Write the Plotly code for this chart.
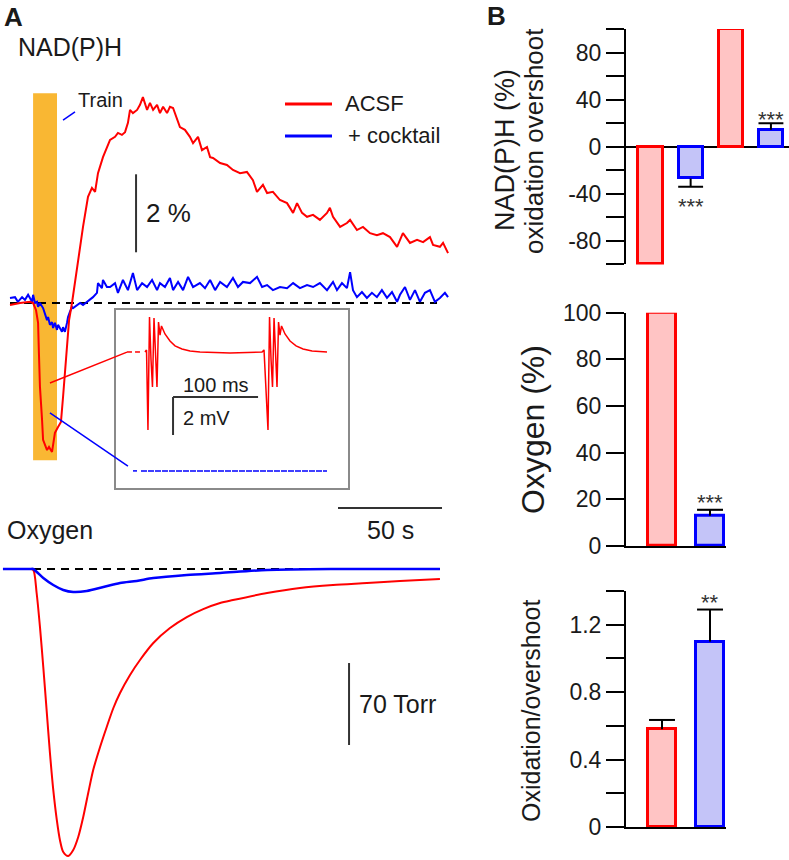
import plotly.graph_objects as go

W, H = 789, 860
FONT = "Liberation Sans, Arial, Helvetica, sans-serif"
RED = "#FF0000"
BLUE = "#0000FF"
RED_FILL = "#FFC4C4"
BLUE_FILL = "#C4C4F8"
ORANGE = "#F9B733"
INK = "#1a1a1a"
BAR_INK = "#333333"

# ---------------- Panel A : NAD(P)H (time in s, change in %) ----------------
nad_acsf_t = [0, 4.8, 9.6, 11.1, 12.5, 13.5, 13.9, 14.4, 15.4, 15.9, 17.8, 18.75, 20.2, 20.7, 21.6,
              23.1, 24.5, 25.5, 26.4, 27.4, 28.4, 29.8, 32.7, 35.1, 37.5, 39.4, 40.9, 42.3, 44.7,
              48.1, 50.5, 51.9, 53.8, 55.3, 56.7, 57.7, 59.1, 61.1, 62.5, 63.9, 65.9, 67.3, 68.8,
              70.7, 72.1, 73.6, 75.5, 76.9, 78.4, 80.3, 81.7, 84.1, 86.5, 88.0, 90.4, 92.3, 94.7,
              96.2, 97.6, 101.0, 104.3, 107.2, 110.6, 113.9, 116.8, 118.75, 121.6, 123.6, 126.4,
              129.8, 133.2, 136.1, 138.0, 140.4, 142.8, 145.7, 149.0, 152.4, 153.8, 155.3, 158.7,
              162.0, 163.5, 166.8, 169.7, 173.1, 176.4, 179.3, 182.7, 186.1, 188.9, 192.3, 195.7,
              198.6, 201.9, 203.4, 206.7, 208.2, 210.6]
nad_acsf_v = [-0.05, 0, 0.03, 0, -0.18, -0.51, -1.28, -2.15, -2.99, -3.51, -3.77, -3.69, -3.82, -3.59, -3.33,
              -3.18, -3.05, -2.41, -1.72, -1.03, -0.44, 0, 1.10, 1.95, 2.72, 2.95, 2.85, 3.33, 3.74,
              4.18, 4.26, 4.36, 4.31, 4.38, 4.62, 4.95, 4.87, 4.95, 5.08, 5.28, 4.95, 5.13, 4.95,
              5.08, 4.87, 5.03, 4.87, 5.03, 5.0, 4.69, 4.51, 4.44, 4.26, 4.10, 4.26, 3.92, 4.0,
              3.74, 3.72, 3.59, 3.54, 3.41, 3.33, 3.36, 3.15, 2.85, 3.03, 2.82, 2.85,
              2.64, 2.56, 2.31, 2.56, 2.31, 2.21, 2.26, 2.13, 2.31, 2.44, 2.21, 1.95,
              2.05, 2.13, 1.87, 1.95, 1.79, 1.74, 1.79, 1.69, 1.44, 1.79, 1.54, 1.62,
              1.56, 1.69, 1.49, 1.44, 1.54, 1.28]

nad_cocktail_t = [0, 2.4, 3.8, 5.8, 7.2, 8.7, 10.6, 11.1, 12.0, 13.0, 13.5, 14.4, 15.9, 16.8, 17.8, 18.3,
                  19.2, 20.2, 20.7, 21.6, 22.6, 23.1, 24.0, 25.0, 25.5, 26.4, 27.4, 27.9, 28.8, 29.8,
                  30.3, 32.2, 33.7, 35.1, 37.0, 38.5, 39.9, 41.8, 42.3, 44.2, 44.7, 46.6, 48.1, 50.5,
                  51.9, 54.3, 56.7, 59.1, 61.1, 63.5, 65.9, 68.3, 70.7, 72.1, 74.5, 76.9, 78.4, 80.8,
                  83.2, 85.6, 88.0, 91.3, 93.75, 96.2, 98.6, 101.0, 104.3, 107.2, 109.6, 112.0, 115.4,
                  118.75, 121.2, 123.6, 126.4, 129.8, 133.2, 136.1, 139.4, 142.8, 145.7, 149.0, 152.4,
                  155.3, 157.2, 159.6, 162.0, 163.5, 164.9, 166.8, 169.2, 171.6, 174.0, 176.4, 178.8,
                  181.25, 183.65, 186.1, 187.5, 189.9, 192.3, 194.7, 197.1, 199.5, 201.9, 204.3,
                  206.7, 209.1, 210.6]
nad_cocktail_v = [0.13, 0.15, 0.03, 0.15, 0.08, 0.21, 0.03, 0.21, 0, 0.03, -0.10, 0, -0.13, -0.31, -0.44, -0.36,
                  -0.56, -0.49, -0.64, -0.51, -0.69, -0.56, -0.64, -0.74, -0.62, -0.74, -0.51, -0.36, -0.23, -0.10,
                  -0.13, -0.05, 0, -0.05, 0.03, 0.08, 0.15, 0.26, 0.51, 0.38, 0.59, 0.41, 0.41, 0.51,
                  0.26, 0.59, 0.33, 0.77, 0.33, 0.51, 0.41, 0.59, 0.33, 0.51, 0.41, 0.64, 0.33, 0.54,
                  0.33, 0.67, 0.41, 0.51, 0.38, 0.59, 0.33, 0.54, 0.41, 0.64, 0.41, 0.54, 0.51,
                  0.67, 0.41, 0.46, 0.33, 0.41, 0.38, 0.51, 0.38, 0.46, 0.41, 0.51, 0.33,
                  0.54, 0.33, 0.51, 0.38, 0.79, 0.33, 0.15, 0.28, 0.13, 0.26, 0.15, 0.33,
                  0.13, 0.28, 0.03, 0.21, 0.41, 0.08, 0.33, 0.03, 0.26, 0.33, 0.03,
                  0.13, 0.26, 0.15]

nad_baseline_t = [0, 205.3]
nad_baseline_v = [0, 0]
train_start, train_end = 11.1, 22.6          # stimulus train (s)
train_band_v = [-4.03, 5.38]                 # vertical extent of the train marker (%)

# ---------------- Panel A : Oxygen (time in s, change in Torr) ----------------
o2_acsf_t = [-2.9, 4.8, 9.6, 11.2, 12.8, 14.4, 16.0, 17.6, 19.2, 20.8, 22.5, 24.0, 25.6, 28.0, 30.4,
             32.8, 35.2, 37.6, 40.0, 43.3, 46.5, 49.7, 52.9, 57.7, 62.5, 68.9, 76.9, 85.0, 92.9,
             101.0, 107.2, 123.6, 139.4, 155.3, 171.6, 187.5, 206.7]
o2_acsf_v = [0, 0, 0, -0.85, -20.5, -49.5, -83.7, -120.4, -157.1, -188.7, -214.3, -231.4, -241.7, -245.1, -240.0,
             -228.9, -211.8, -191.3, -171.6, -152.0, -134.9, -118.7, -105.9, -90.5, -77.7, -63.2, -50.4, -41.0, -34.2,
             -29.0, -26.5, -20.5, -16.2, -13.7, -12.0, -10.2, -8.5]
o2_cocktail_t = [-3.4, 9.6, 11.1, 16.0, 20.8, 25.6, 30.4, 36.9, 44.9, 52.9, 60.9, 68.9, 85.0, 101.0,
                 123.6, 155.3, 206.7]
o2_cocktail_v = [0, 0, 0, -7.7, -13.7, -17.9, -19.6, -18.8, -15.4, -12.0, -10.2, -7.7, -5.1, -3.4,
                 -0.85, 0, 0]
o2_baseline_t = [-2.4, 206.7]
o2_baseline_v = [0, 0]

# ---------------- Inset : field potentials (ms, mV) ----------------
inset_acsf_ms = [12.9, 18.8, None, 22.4, 28.2, None, 34.1, 35.9, 37.6, 39.4, 41.2, 42.9, 44.7, 46.5, 48.2,
                 50.0, 51.8, 53.5, 57.6, 63.5, 69.4, 77.6, 87.1, 98.8, 134.1, 171.8, 174.1, 178.8, 180.6,
                 182.4, 184.1, 185.9, 187.6, 189.4, 191.2, 192.9, 194.7, 198.8, 204.7, 211.8, 220.0,
                 230.6, 248.2]
inset_acsf_mv = [0, 0, None, 0, 0, None, 0, 0.11, -4.11, 1.84, -0.42, -1.84, 1.79, 0, -1.84,
                 1.58, 0.89, 1.37, 0.95, 0.58, 0.32, 0.16, 0.05, 0, -0.05, 0, 0.11, -4.11, 1.84,
                 -0.42, -1.84, 1.79, 0, -1.84, 1.58, 0.89, 1.37, 0.95, 0.58, 0.32, 0.16,
                 0.05, 0]
inset_cocktail_ms = [20.0, 24.7, None, 29.4, 248.2]
inset_cocktail_mv = [-6.26, -6.26, None, -6.26, -6.26]

# ---------------- Panel B : summary bars ----------------
nad_categories = ["ACSF oxidation", "+ cocktail oxidation", "ACSF overshoot", "+ cocktail overshoot"]
nad_values = [-100, -27, 100, 14.5]
nad_sem = [0, 7, 0, 5.5]
nad_stars = ["", "***", "", "***"]
nad_ticks = [-80, -40, 0, 40, 80]
nad_ticklabels = ["-80", "-40", "0", "40", "80"]

oxy_categories = ["ACSF", "+ cocktail"]
oxy_values = [100, 13]
oxy_sem = [0, 2.5]
oxy_stars = ["", "***"]

ratio_categories = ["ACSF", "+ cocktail"]
ratio_values = [0.58, 1.10]
ratio_sem = [0.055, 0.19]
ratio_stars = ["", "**"]

nad_colors = [RED, BLUE, RED, BLUE]
nad_fills = [RED_FILL, BLUE_FILL, RED_FILL, BLUE_FILL]
pair_colors = [RED, BLUE]
pair_fills = [RED_FILL, BLUE_FILL]


def px(x):
    return x / W


def py(y):
    return 1 - y / H


fig = go.Figure()

fig.add_trace(go.Scatter(x=nad_baseline_t, y=nad_baseline_v, mode="lines", xaxis="x", yaxis="y",
                         line=dict(color="black", width=2, dash="8px,6px"), hoverinfo="skip"))
fig.add_trace(go.Scatter(x=nad_cocktail_t, y=nad_cocktail_v, mode="lines", xaxis="x", yaxis="y",
                         name="+ cocktail", line=dict(color=BLUE, width=2)))
fig.add_trace(go.Scatter(x=nad_acsf_t, y=nad_acsf_v, mode="lines", xaxis="x", yaxis="y",
                         name="ACSF", line=dict(color=RED, width=2)))

fig.add_trace(go.Scatter(x=o2_baseline_t, y=o2_baseline_v, mode="lines", xaxis="x2", yaxis="y2",
                         line=dict(color="black", width=2, dash="8px,6px"), hoverinfo="skip"))
fig.add_trace(go.Scatter(x=o2_acsf_t, y=o2_acsf_v, mode="lines", xaxis="x2", yaxis="y2",
                         name="ACSF", line=dict(color=RED, width=2, shape="spline", smoothing=0.8)))
fig.add_trace(go.Scatter(x=o2_cocktail_t, y=o2_cocktail_v, mode="lines", xaxis="x2", yaxis="y2",
                         name="+ cocktail", line=dict(color=BLUE, width=2.5, shape="spline", smoothing=0.8)))

fig.add_trace(go.Scatter(x=inset_acsf_ms, y=inset_acsf_mv, mode="lines", xaxis="x3", yaxis="y3",
                         name="ACSF", line=dict(color=RED, width=1.5)))
fig.add_trace(go.Scatter(x=inset_cocktail_ms, y=inset_cocktail_mv, mode="lines", xaxis="x3", yaxis="y3",
                         name="+ cocktail", line=dict(color=BLUE, width=1.5, dash="6px,1px")))


def add_bars(xa, ya, values, sems, stars, colors, fills, names, width, cap, star_font, up_shift, down_shift):
    xs = list(range(len(values)))
    fig.add_trace(go.Bar(x=xs, y=values, xaxis=xa, yaxis=ya, width=width,
                         marker=dict(color=fills, line=dict(color=colors, width=3)),
                         hovertext=names))
    ex, ey = [], []
    for i, (v, s) in enumerate(zip(values, sems)):
        if s <= 0:
            continue
        end = v + s if v >= 0 else v - s
        ex += [i, i, None, i - cap, i + cap, None]
        ey += [v, end, None, end, end, None]
    fig.add_trace(go.Scatter(x=ex, y=ey, mode="lines", xaxis=xa, yaxis=ya,
                             line=dict(color="black", width=2), hoverinfo="skip"))
    for i, (v, s, st) in enumerate(zip(values, sems, stars)):
        if not st:
            continue
        end = v + s if v >= 0 else v - s
        fig.add_annotation(x=i, y=end, xref=xa, yref=ya, text=st, showarrow=False,
                           yanchor="middle", yshift=(up_shift if v >= 0 else down_shift),
                           font=dict(family=FONT, size=star_font, color="#333"))


add_bars("x4", "y4", nad_values, nad_sem, nad_stars, nad_colors, nad_fills, nad_categories,
         0.6, 0.31, 22, 4, -20)
add_bars("x5", "y5", oxy_values, oxy_sem, oxy_stars, pair_colors, pair_fills, oxy_categories,
         0.57, 0.27, 22, 7, -20)
add_bars("x6", "y6", ratio_values, ratio_sem, ratio_stars, pair_colors, pair_fills, ratio_categories,
         0.57, 0.27, 22, 7, -20)

hidden = dict(visible=False, showgrid=False, zeroline=False)
axis_common = dict(showline=True, linewidth=2, linecolor="black", ticks="outside", ticklen=18,
                   tickwidth=2, tickcolor="black", showgrid=False, automargin=False,
                   tickfont=dict(family=FONT, size=23, color=INK))

fig.update_layout(
    width=W, height=H, autosize=False, showlegend=False,
    margin=dict(l=0, r=0, t=0, b=0, pad=0, autoexpand=False),
    paper_bgcolor="white", plot_bgcolor="white",
    font=dict(family=FONT, color=INK),
    bargap=0,
    xaxis=dict(domain=[0, px(460)], range=[-4.81, 216.35], anchor="y", **hidden),
    yaxis=dict(domain=[py(490), 1], range=[-4.795, 7.769], anchor="x", **hidden),
    xaxis2=dict(domain=[0, px(460)], range=[-4.81, 216.35], anchor="y2", **hidden),
    yaxis2=dict(domain=[0, py(490)], range=[-248.5, 67.46], anchor="x2", **hidden),
    xaxis3=dict(domain=[px(116), px(348)], range=[0, 272.9], anchor="y3", showline=True, mirror=True,
                linecolor="#8a8a8a", linewidth=1.5, ticks="", showticklabels=False, showgrid=False,
                zeroline=False),
    yaxis3=dict(domain=[py(488), py(310)], range=[-7.16, 2.21], anchor="x3", showline=True, mirror=True,
                linecolor="#8a8a8a", linewidth=1.5, ticks="", showticklabels=False, showgrid=False,
                zeroline=False),
    xaxis4=dict(domain=[px(626), 1], range=[-0.61, 3.45], anchor="y4", showline=False, ticks="",
                showticklabels=False, showgrid=False, zeroline=False),
    yaxis4=dict(domain=[py(264.4), py(29)], range=[-100, 100], anchor="x4",
                tickmode="array", tickvals=nad_ticks, ticktext=nad_ticklabels,
                minor=dict(dtick=20, tick0=0, ticks="outside", ticklen=18, tickwidth=2, tickcolor="black"),
                zeroline=True, zerolinecolor="black", zerolinewidth=2, **axis_common),
    xaxis5=dict(domain=[px(626), px(726)], range=[-0.75, 1.333], anchor="y5", showline=True, linewidth=2,
                linecolor="black", ticks="", showticklabels=False, showgrid=False, zeroline=False),
    yaxis5=dict(domain=[py(546), py(312.7)], range=[0, 100], anchor="x5", tickmode="linear", tick0=0,
                dtick=20, zeroline=False, **axis_common),
    xaxis6=dict(domain=[px(626), px(726)], range=[-0.75, 1.333], anchor="y6", showline=True, linewidth=2,
                linecolor="black", ticks="", showticklabels=False, showgrid=False, zeroline=False),
    yaxis6=dict(domain=[py(827), py(591)], range=[0, 1.4], anchor="x6", tickmode="linear", tick0=0,
                dtick=0.4, tickformat="~g",
                minor=dict(dtick=0.2, tick0=0, ticks="outside", ticklen=18, tickwidth=2, tickcolor="black"),
                zeroline=False, **axis_common),
)

shapes = [
    dict(type="rect", xref="x", yref="y", x0=train_start, x1=train_end, y0=train_band_v[0], y1=train_band_v[1],
         fillcolor=ORANGE, line=dict(width=0), layer="below"),
    dict(type="line", xref="x", yref="y", x0=19.2, y0=-2.05, x1=56.25, y1=-1.26, line=dict(color=RED, width=1.5)),
    dict(type="line", xref="x", yref="y", x0=19.2, y0=-2.82, x1=56.7, y1=-4.18, line=dict(color=BLUE, width=1.5)),
    dict(type="line", xref="x", yref="y", x0=25.5, y0=4.69, x1=31.25, y1=4.90, line=dict(color=BLUE, width=1.5)),
    dict(type="line", xref="x", yref="y", x0=60.6, x1=60.6, y0=1.3, y1=3.3, line=dict(color=BAR_INK, width=2)),
    dict(type="line", xref="x2", yref="y2", x0=157.7, x1=207.7, y0=52.1, y1=52.1, line=dict(color=BAR_INK, width=2)),
    dict(type="line", xref="x2", yref="y2", x0=163.0, x1=163.0, y0=-80.3, y1=-150.3, line=dict(color=BAR_INK, width=2)),
    dict(type="line", xref="x3", yref="y3", x0=67.1, x1=167.1, y0=-2.37, y1=-2.37, line=dict(color=BAR_INK, width=2)),
    dict(type="line", xref="x3", yref="y3", x0=67.1, x1=67.1, y0=-2.37, y1=-4.37, line=dict(color=BAR_INK, width=2)),
    dict(type="line", xref="paper", yref="paper", x0=px(285), x1=px(332), y0=py(104), y1=py(104),
         line=dict(color=RED, width=3)),
    dict(type="line", xref="paper", yref="paper", x0=px(285), x1=px(332), y0=py(136), y1=py(136),
         line=dict(color=BLUE, width=3)),
]
fig.update_layout(shapes=shapes)


def txt(text, x, y, size, xanchor="left", bold=False, angle=0, xref="paper", yref="paper", **kw):
    fig.add_annotation(text=("<b>%s</b>" % text) if bold else text, x=x, y=y, xref=xref, yref=yref,
                       showarrow=False, xanchor=xanchor, yanchor="middle", textangle=angle,
                       font=dict(family=FONT, size=size, color=INK), **kw)


txt("A", px(2), py(17), 26, bold=True)
txt("B", px(485), py(16), 26, bold=True)
txt("NAD(P)H", px(16), py(47), 25)
txt("Train", px(76), py(100), 20)
txt("ACSF", px(343), py(104), 22)
txt("+ cocktail", px(346), py(136), 22)
txt("Oxygen", px(5), py(530), 25)
txt("2 %", 60.6, 2.3, 26, xref="x", yref="y", xshift=8)
txt("50 s", 182.7, 52.1, 25, xanchor="center", xref="x2", yref="y2", yshift=-22)
txt("70 Torr", 163.0, -115.3, 25, xref="x2", yref="y2", xshift=8)
txt("100 ms", 117.1, -2.37, 20, xanchor="center", xref="x3", yref="y3", yshift=12)
txt("2 mV", 67.1, -3.5, 20, xref="x3", yref="y3", xshift=8)
txt("NAD(P)H (%)", px(505), py(150), 27, xanchor="center", angle=-90)
txt("oxidation overshoot", px(534), py(141), 26, xanchor="center", angle=-90)
txt("Oxygen (%)", px(533), py(430), 32, xanchor="center", angle=-90)
txt("Oxidation/overshoot", px(531), py(711), 25, xanchor="center", angle=-90)

fig.write_html("out.html", config={"displayModeBar": False},
               post_script="document.body.style.margin='0';document.body.style.overflow='hidden';")
